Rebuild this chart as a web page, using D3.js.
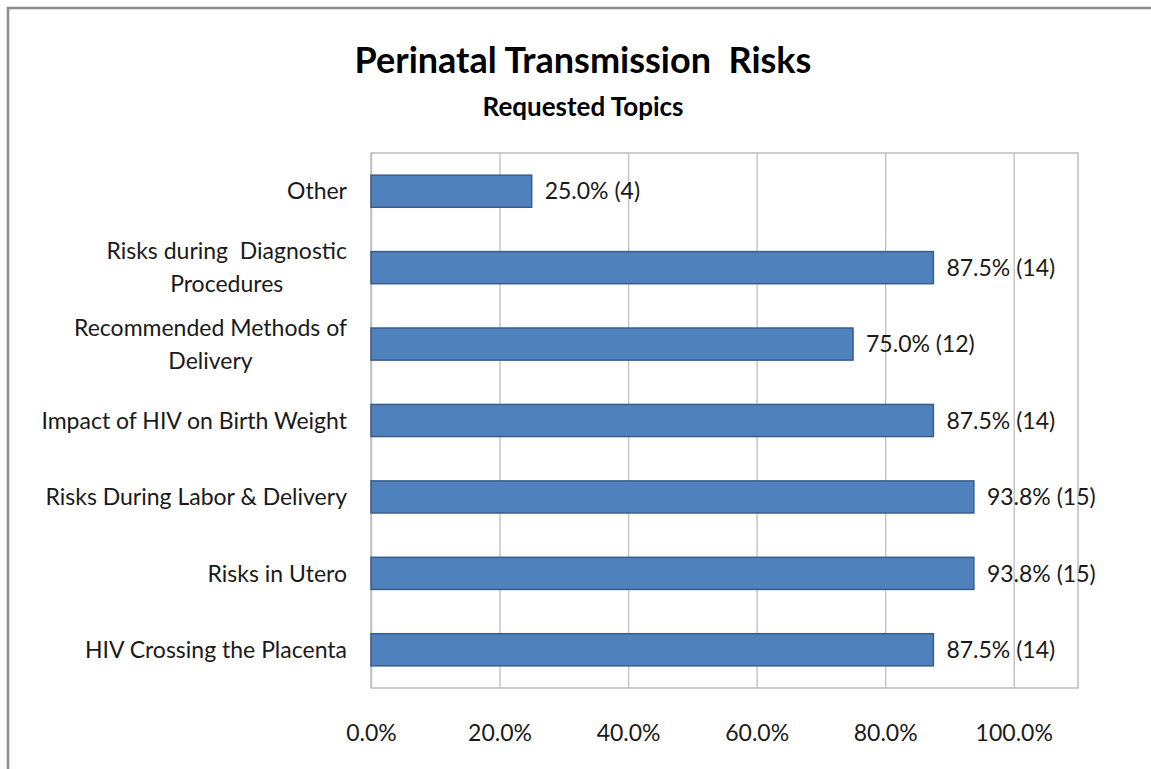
<!DOCTYPE html>
<html>
<head>
<meta charset="utf-8">
<script src="https://cdn.jsdelivr.net/npm/d3@7"></script>
<style>
  body { margin: 0; background: #fff; }
  svg { display: block; font-family: Lato, "Open Sans", sans-serif; }
</style>
</head>
<body>
<svg id="chart" width="1151" height="769"></svg>
<script>
// categories, top to bottom
const categories = [
  "Other",
  "Risks during  Diagnostic\nProcedures",
  "Recommended Methods of\nDelivery",
  "Impact of HIV on Birth Weight",
  "Risks During Labor & Delivery",
  "Risks in Utero",
  "HIV Crossing the Placenta"
]
const percents = [0.25, 0.875, 0.75, 0.875, 0.938, 0.938, 0.875]
const counts = [4, 14, 12, 14, 15, 15, 14]
const tickValues = [0, 0.2, 0.4, 0.6, 0.8, 1.0]

const width = 1151
const height = 769
const margin = { top: 153, right: 73, bottom: 81, left: 371 }
const innerW = width - margin.left - margin.right
const innerH = height - margin.top - margin.bottom

const svg = d3.select("#chart")

// outer chart frame (only top & left show in the crop)
svg.append("path")
  .attr("d", `M8,${height} V8 H${width}`)
  .attr("fill", "none")
  .attr("stroke", "#8c8c8c")
  .attr("stroke-width", 2.5)

svg.append("text")
  .attr("x", 583).attr("y", 73)
  .attr("text-anchor", "middle")
  .style("font-size", "36px").style("font-weight", 700)
  .style("white-space", "pre")
  .attr("fill", "#000")
  .text("Perinatal Transmission  Risks")

svg.append("text")
  .attr("x", 583).attr("y", 116)
  .attr("text-anchor", "middle")
  .style("font-size", "26px").style("font-weight", 700)
  .attr("fill", "#000")
  .text("Requested Topics")

const x = d3.scaleLinear().domain([0, 1.1]).range([0, innerW])
const y = d3.scaleBand().domain(categories).range([0, innerH]).paddingInner(0.58).paddingOuter(0.29)

const g = svg.append("g").attr("transform", `translate(${margin.left},${margin.top})`)

// gridlines
g.append("g")
  .attr("transform", `translate(0,${innerH})`)
  .call(d3.axisBottom(x).tickValues(tickValues).tickSize(-innerH).tickFormat(""))
  .call(a => a.select(".domain").remove())
  .call(a => a.selectAll("line").attr("stroke", "#c6c6c6").attr("stroke-width", 1.5))

// plot border
g.append("rect")
  .attr("width", innerW).attr("height", innerH)
  .attr("fill", "none")
  .attr("stroke", "#bdbdbd")
  .attr("stroke-width", 1.5)

// tick labels
g.append("g")
  .attr("transform", `translate(0,${innerH})`)
  .call(d3.axisBottom(x).tickValues(tickValues).tickSize(0).tickPadding(37).tickFormat(d3.format(".1%")))
  .call(a => a.select(".domain").remove())
  .call(a => a.selectAll("text")
    .style("font-family", "Lato, 'Open Sans', sans-serif")
    .style("font-size", "23px")
    .attr("fill", "#1a1a1a"))

// bars
g.selectAll("rect.bar")
  .data(categories)
  .join("rect")
  .attr("class", "bar")
  .attr("x", 0)
  .attr("y", d => y(d))
  .attr("width", (d, i) => x(percents[i]))
  .attr("height", y.bandwidth())
  .attr("fill", "#4f81bd")
  .attr("stroke", "#385d8a")
  .attr("stroke-width", 1.5)

// data labels
g.selectAll("text.val")
  .data(categories)
  .join("text")
  .attr("class", "val")
  .attr("x", (d, i) => x(percents[i]) + 13)
  .attr("y", d => y(d) + y.bandwidth() / 2)
  .attr("dy", "0.36em")
  .style("font-size", "23px")
  .attr("fill", "#1a1a1a")
  .text((d, i) => `${d3.format(".1%")(percents[i])} (${counts[i]})`)

// category labels, wrapped lines centred on each other
const lineH = 33
const catG = g.selectAll("g.cat")
  .data(categories)
  .join("g")
  .attr("class", "cat")
  .attr("transform", d => `translate(-24,${y(d) + y.bandwidth() / 2})`)

catG.each(function(d) {
  const lines = d.split("\n")
  const t = d3.select(this).append("text")
    .style("font-size", "23px")
    .style("white-space", "pre")
    .attr("fill", "#1a1a1a")
  lines.forEach((l, i) => {
    t.append("tspan")
      .attr("x", 0)
      .attr("y", (i - (lines.length - 1) / 2) * lineH)
      .attr("dy", "0.36em")
      .text(l)
  })
  // right-align the block, centre the lines inside it
  const w = d3.max(t.selectAll("tspan").nodes(), n => n.getComputedTextLength())
  t.attr("text-anchor", "middle").selectAll("tspan").attr("x", -w / 2)
})
</script>
</body>
</html>
